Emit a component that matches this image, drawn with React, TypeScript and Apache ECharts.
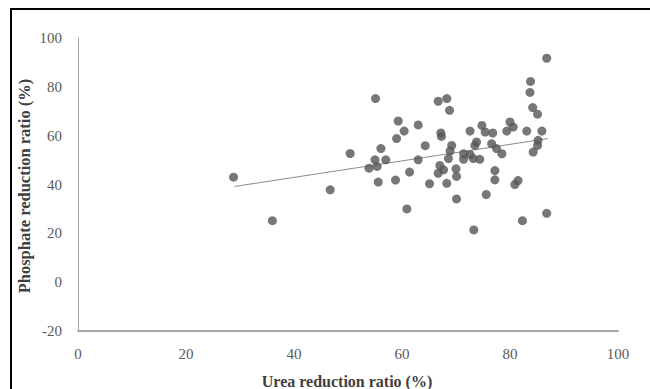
import React, { useEffect, useRef } from "react";
import * as echarts from "echarts";

const ureaRatio: number[] = [
  28.8, 36.0, 46.7, 50.4, 55.1, 59.3, 60.4, 59.0, 56.1, 55.0, 57.0, 53.9, 55.4, 55.6, 58.8, 61.4, 60.9,
  63.0, 63.0, 64.3, 65.1, 66.7, 68.3, 68.8, 67.2, 67.3, 67.0, 67.7, 66.7, 68.3, 68.6, 69.2, 68.9, 70.0,
  70.1, 70.1, 71.4, 71.4, 72.6, 73.2, 74.4, 72.6, 73.8, 73.5, 74.8, 75.4, 76.8, 73.3, 75.6, 76.6, 77.5,
  78.5, 77.2, 77.2, 80.0, 80.6, 79.4, 81.5, 80.9, 82.3, 83.1, 85.9, 85.2, 85.1, 84.3, 83.8, 83.7, 84.2,
  85.1, 86.8, 86.8,
];
const phosphateRatio: number[] = [
  43.0, 25.2, 37.8, 52.7, 75.2, 66.0, 61.9, 58.8, 54.7, 50.1, 50.1, 46.7, 47.4, 41.0, 41.8, 45.1, 30.0,
  64.4, 50.1, 55.9, 40.3, 74.1, 75.2, 70.4, 61.1, 59.7, 47.8, 46.0, 44.6, 40.5, 50.6, 56.0, 53.7, 46.4,
  43.3, 34.1, 52.6, 50.3, 52.3, 50.6, 50.3, 61.9, 57.4, 56.0, 64.2, 61.5, 61.1, 21.4, 35.9, 56.7, 54.7,
  52.6, 45.7, 41.9, 65.6, 63.5, 61.9, 41.6, 40.0, 25.2, 61.9, 61.9, 58.1, 56.0, 53.3, 82.2, 77.7, 71.5,
  68.8, 91.7, 28.2,
];
const trendX: number[] = [29, 87];
const trendY: number[] = [39.2, 58.8];
const xTicks: number[] = [0, 20, 40, 60, 80, 100];
const yTicks: number[] = [-20, 0, 20, 40, 60, 80, 100];
const xTitle = "Urea reduction ratio (%)";
const yTitle = "Phosphate reduction ratio (%)";

export default function App() {
  const ref = useRef<HTMLDivElement>(null);
  useEffect(() => {
    if (!ref.current) return;
    const chart = echarts.init(ref.current, undefined, { renderer: "svg" });
    const serif = "'Liberation Serif', 'Times New Roman', serif";
    chart.setOption({
      animation: false,
      backgroundColor: "#ffffff",
      grid: { left: 78, right: 32, top: 38, bottom: 58 },
      xAxis: {
        type: "value",
        min: xTicks[0],
        max: xTicks[xTicks.length - 1],
        interval: 20,
        axisLine: { show: true, onZero: false, lineStyle: { color: "#a6a6a6", width: 2 } },
        axisTick: { show: false },
        splitLine: { show: false },
        axisLabel: { color: "#595959", fontFamily: serif, fontSize: 15, margin: 15 },
      },
      yAxis: {
        type: "value",
        min: yTicks[0],
        max: yTicks[yTicks.length - 1],
        interval: 20,
        axisLine: { show: true, onZero: false, lineStyle: { color: "#a6a6a6", width: 1 } },
        axisTick: { show: false },
        splitLine: { show: false },
        axisLabel: { color: "#595959", fontFamily: serif, fontSize: 15, margin: 16 },
      },
      graphic: [
        { type: "rect", shape: { x: 10, y: 8, width: 2, height: 381 }, style: { fill: "#000" } },
        { type: "rect", shape: { x: 10, y: 8, width: 640, height: 2 }, style: { fill: "#000" } },
        {
          type: "text",
          x: 347,
          y: 381,
          style: {
            text: xTitle,
            fill: "#404040",
            font: `bold 16px ${serif}`,
            align: "center",
            verticalAlign: "middle",
          },
        },
        {
          type: "text",
          x: 24,
          y: 186,
          rotation: Math.PI / 2,
          style: {
            text: yTitle,
            fill: "#404040",
            font: `bold 16.5px ${serif}`,
            align: "center",
            verticalAlign: "middle",
          },
        },
      ],
      series: [
        {
          type: "line",
          data: trendX.map((x, i) => [x, trendY[i]]),
          symbol: "none",
          lineStyle: { color: "#8c8c8c", width: 1 },
          z: 1,
        },
        {
          type: "scatter",
          data: ureaRatio.map((x, i) => [x, phosphateRatio[i]]),
          symbol: "circle",
          symbolSize: 9,
          itemStyle: { color: "#555555" },
          z: 2,
        },
      ],
    });
    return () => chart.dispose();
  }, []);
  return <div ref={ref} style={{ width: 650, height: 389, position: "absolute", left: 0, top: 0 }} />;
}
